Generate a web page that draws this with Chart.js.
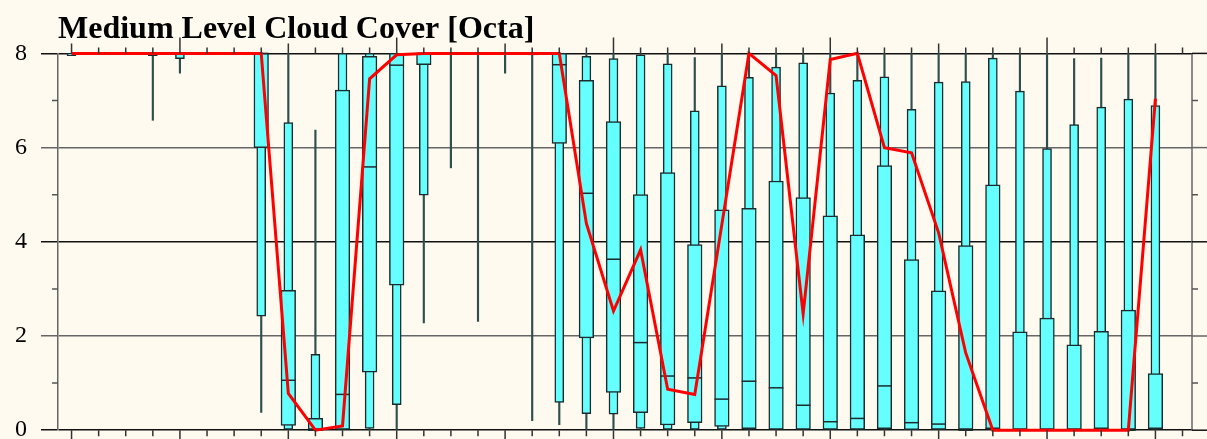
<!DOCTYPE html>
<html>
<head>
<meta charset="utf-8">
<script src="https://cdn.jsdelivr.net/npm/chart.js@4.4.1/dist/chart.umd.min.js"></script>
<style>
  html, body { margin: 0; padding: 0; background: #fffaf0; }
  #wrap { width: 1207px; height: 439px; }
</style>
</head>
<body>
<div id="wrap"><canvas id="myChart" width="1207" height="439"></canvas></div>
<script>

// forecast steps (6-hourly), 0..40, axis ticks run to 41
var steps = [0,1,2,3,4,5,6,7,8,9,10,11,12,13,14,15,16,17,18,19,20,
             21,22,23,24,25,26,27,28,29,30,31,32,33,34,35,36,37,38,39,40]
var stepTicks = [0,1,2,3,4,5,6,7,8,9,10,11,12,13,14,15,16,17,18,19,20,
                 21,22,23,24,25,26,27,28,29,30,31,32,33,34,35,36,37,38,39,40,41]
var yTicks = [0, 2, 4, 6, 8]
var yMinorTicks = [1, 3, 5, 7]

// ensemble distribution (octa)
var cloudMin = [8,8,8,6.58,7.58,8,8,0.38,0,0,0,0,0,2.28,5.57,2.31,7.58,0.2,0.12,0,0,
                0,0,0,0,0,0,0,0,0,0,0,0,0,0,0,0,0,0,0,0]
var cloudP10 = [7.95,8,8,7.95,7.89,8,8,2.42,0,0,0,0.04,0.54,4.99,8,8,8,7.97,0.59,0.35,0.34,
                0.04,0,0,0,0,0,0,0,0,0,0,0,0,0,0,0,0,0,0,0]
var cloudP25 = [8,8,8,8,8,8,8,6.0,0.1,0,0,1.23,3.08,7.76,8,8,8,8,6.09,1.96,0.8,
                0.37,0.11,0.16,0.08,0.03,0,0,0,0,0.03,0.01,0,0,0.03,0,0,0,0.03,0,0.03]
var cloudMedian = [8,8,8,8,8,8,8,8,1.06,0,0.76,5.59,7.75,8,8,8,8,8,7.76,5.03,3.63,
                   1.86,1.15,1.11,0.66,1.04,0.9,0.53,0.18,0.25,0.94,0.16,0.13,0,0.03,0,0,0,0.03,0,0.03]
var cloudP75 = [8,8,8,8,8,8,8,8,2.97,0.25,7.22,7.94,8,8,8,8,8,8,8,7.43,6.55,
                5.0,5.47,3.94,4.68,4.71,5.29,4.94,4.55,4.15,5.62,3.62,2.96,3.92,5.21,2.09,2.38,1.81,2.1,2.55,1.2]
var cloudP90 = [8,8,8,8,8,8,8,8,6.53,1.61,8,8,8,8,8,8,8,8,8,7.94,7.89,
                7.97,7.78,6.78,7.31,7.49,7.71,7.8,7.16,7.43,7.5,6.81,7.39,7.4,7.9,7.2,5.98,6.49,6.86,7.03,6.89]
var cloudMax = [8,8,8,8,8,8,8,8,8,6.37,8,8,8,8,8,8,8,8,8,8,8,
                8,8,7.91,8,8,8,8,8,8,8,8,8,8,8,8,8,7.89,7.9,8,8]

// deterministic run
var cloudDet = [8,8,8,8,8,8,8,8,0.78,0,0.09,7.46,7.97,8,8,8,8,8,8,4.39,2.53,
                3.83,0.87,0.76,4.37,8,7.53,2.47,7.87,8,6.0,5.89,4.19,1.64,0,0,0,0,0,0,7.04]

var serif = "'Liberation Serif', 'DejaVu Serif', serif"

function range(lo, hi){
    return steps.map(function(i){ return { x: i, y: [lo[i], hi[i]] } })
}

var frameDecor = {
    id: 'frameDecor',
    afterDraw: function(chart){
        var ctx = chart.ctx
        var area = chart.chartArea
        var xs = chart.scales.x
        var ys = chart.scales.y
        ctx.save()
        ctx.lineWidth = 1.5

        // right frame line
        ctx.strokeStyle = '#666'
        ctx.beginPath()
        ctx.moveTo(area.right, area.top)
        ctx.lineTo(area.right, area.bottom)
        ctx.stroke()

        // grid lines run on past the right frame
        yTicks.forEach(function(v){
            var y = ys.getPixelForValue(v)
            ctx.strokeStyle = (v % 4 === 0) ? '#111' : '#666'
            ctx.beginPath()
            ctx.moveTo(area.right, y)
            ctx.lineTo(chart.width, y)
            ctx.stroke()
        })

        // minor y ticks, both sides
        ctx.strokeStyle = '#555'
        yMinorTicks.forEach(function(v){
            var y = ys.getPixelForValue(v)
            ctx.beginPath()
            ctx.moveTo(area.left - 6, y)
            ctx.lineTo(area.left, y)
            ctx.moveTo(area.right, y)
            ctx.lineTo(area.right + 6, y)
            ctx.stroke()
        })

        // x ticks on top and bottom
        ctx.strokeStyle = '#333'
        stepTicks.forEach(function(i){
            var x = xs.getPixelForValue(i)
            var len = (i % 8 === 4) ? 16 : (i % 8 === 0 ? 10 : 6)
            ctx.beginPath()
            ctx.moveTo(x, area.top - len)
            ctx.lineTo(x, area.top)
            ctx.moveTo(x, area.bottom)
            ctx.lineTo(x, area.bottom + len)
            ctx.stroke()
        })
        ctx.restore()
    }
}

var ctx = document.getElementById('myChart').getContext('2d')
var chart = new Chart(ctx, {
    type: 'bar',
    data: {
        datasets: [
            {
                type: 'line',
                label: 'Deterministic',
                data: steps.map(function(i){ return { x: i, y: cloudDet[i] } }),
                borderColor: '#ff0000',
                borderWidth: 3,
                pointRadius: 0,
                tension: 0,
                clip: false,
                order: 0
            },
            {
                type: 'line',
                label: 'Median',
                data: steps.map(function(i){
                    return { x: i, y: cloudP25[i] === cloudP75[i] ? null : cloudMedian[i] }
                }),
                showLine: false,
                pointStyle: 'line',
                pointRadius: 7.3,
                pointBorderWidth: 1.5,
                pointBorderColor: '#1c2b2b',
                clip: false,
                order: 1
            },
            {
                label: '25-75%',
                data: range(cloudP25, cloudP75),
                backgroundColor: '#66ffff',
                borderColor: '#1c2b2b',
                borderWidth: 1.5,
                borderSkipped: false,
                barThickness: 14.6,
                grouped: false,
                clip: false,
                order: 2
            },
            {
                label: '10-90%',
                data: range(cloudP10, cloudP90),
                backgroundColor: '#66ffff',
                borderColor: '#1c2b2b',
                borderWidth: 1.5,
                borderSkipped: false,
                barThickness: 9,
                grouped: false,
                clip: false,
                order: 3
            },
            {
                label: 'min-max',
                data: range(cloudMin, cloudMax),
                backgroundColor: '#2f4f4f',
                borderWidth: 0,
                barThickness: 1.5,
                grouped: false,
                clip: false,
                order: 4
            }
        ]
    },
    options: {
        responsive: false,
        animation: false,
        layout: { padding: { top: 0, right: 15, bottom: 8, left: 0 } },
        plugins: {
            legend: { display: false },
            tooltip: { enabled: false },
            title: {
                display: true,
                text: 'Medium Level Cloud Cover [Octa]',
                align: 'start',
                fullSize: false,
                color: '#000',
                font: { family: serif, size: 32, weight: 'bold', lineHeight: 1.2 },
                padding: { top: 11, bottom: 4 }
            }
        },
        scales: {
            x: {
                type: 'linear',
                min: -0.5,
                max: 41.35,
                offset: false,
                display: false
            },
            y: {
                min: 0,
                max: 8,
                afterFit: function(scale){
                    scale.width = 58
                    scale.paddingTop = 0
                    scale.paddingBottom = 0
                },
                afterBuildTicks: function(scale){
                    scale.ticks = yTicks.map(function(v){ return { value: v } })
                },
                ticks: {
                    color: '#000',
                    padding: 14,
                    font: { family: serif, size: 24 }
                },
                grid: {
                    tickLength: 17,
                    lineWidth: 1.5,
                    color: function(c){ return (c.tick && c.tick.value % 4 === 0) ? '#111' : '#666' }
                },
                border: { display: true, color: '#666', width: 1.5 }
            }
        }
    },
    plugins: [frameDecor]
})
</script>
</body>
</html>
